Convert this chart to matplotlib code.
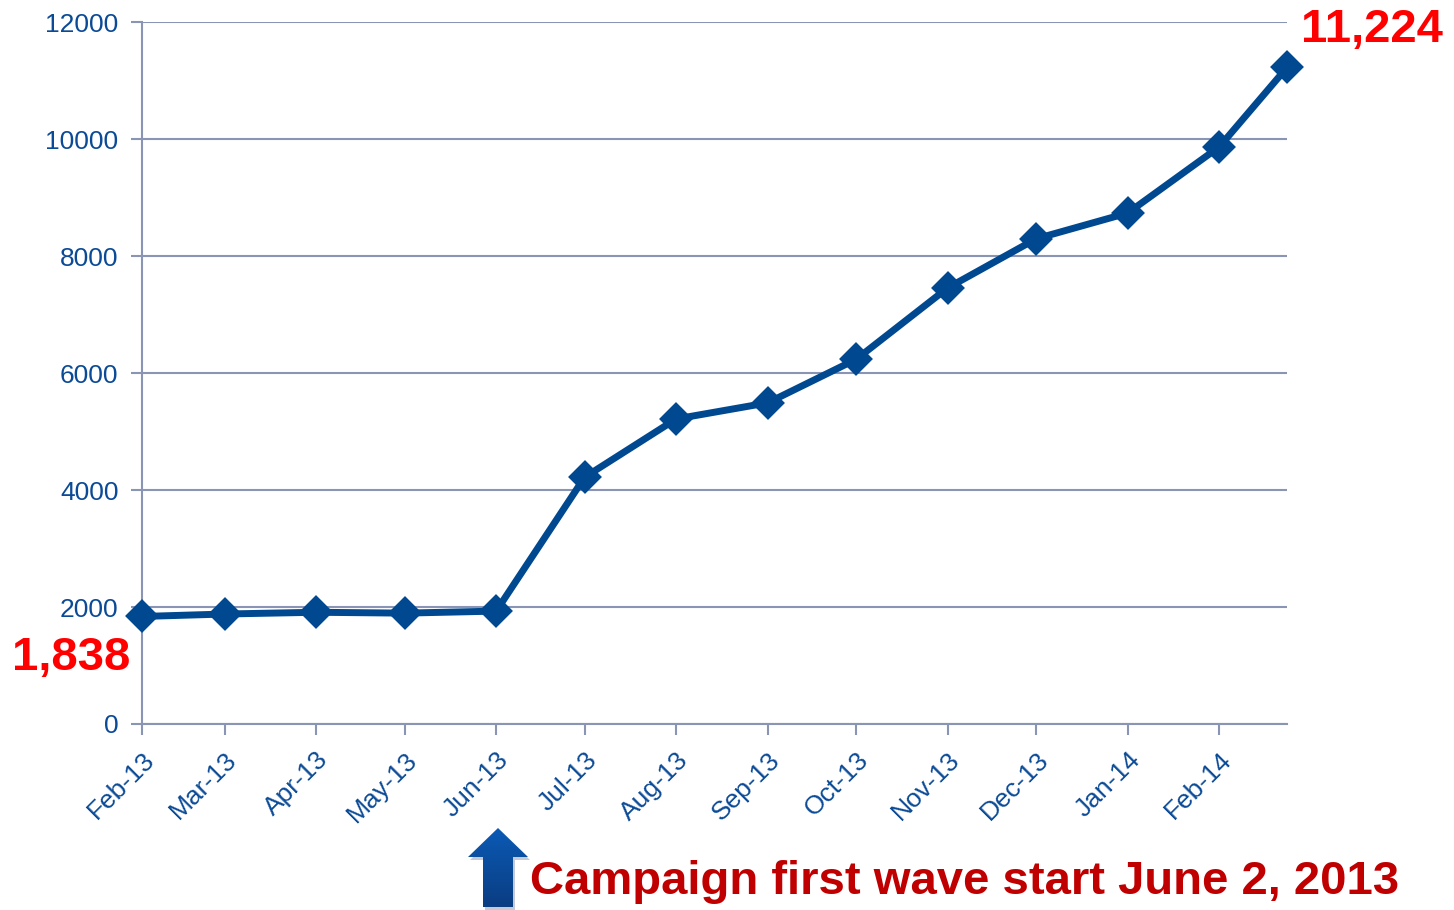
import numpy as np
import matplotlib
matplotlib.use('Agg')
import matplotlib.pyplot as plt
import matplotlib.dates as mdates
from matplotlib.patches import FancyArrow
import datetime as dt

# 資料
dates = [dt.date(2013, m, 1) for m in range(2, 13)] + [dt.date(2014, 1, 1), dt.date(2014, 2, 1), dt.date(2014, 2, 24)]
values = [1838, 1880, 1910, 1895, 1930, 4220, 5215, 5490, 6235, 7455, 8295, 8735, 9865, 11224]
tick_dates = [dt.date(2013, m, 1) for m in range(2, 13)] + [dt.date(2014, 1, 1), dt.date(2014, 2, 1)]

line_color = '#004990'
text_color = '#0b4a96'
grid_color = '#8a95b5'

plt.rcParams['font.family'] = ['Liberation Sans', 'DejaVu Sans']

fig = plt.figure(figsize=(14.54, 9.10), dpi=100)
ax = fig.add_axes([0.0977, 0.2044, 0.7875, 0.7714])

ax.plot(dates, values, color=line_color, lw=5, marker='D', ms=14,
        mec=line_color, mew=3, solid_joinstyle='round', zorder=3, clip_on=False)

ax.set_ylim(0, 12000)
ax.set_yticks(np.arange(0, 12001, 2000))
ax.set_xlim(dates[0], dates[-1])
ax.set_xticks(tick_dates)
ax.xaxis.set_major_formatter(mdates.DateFormatter('%b-%y'))

ax.grid(axis='y', color=grid_color, lw=1.5)
ax.set_axisbelow(True)
for s in ['top', 'right']:
    ax.spines[s].set_visible(False)
for s in ['left', 'bottom']:
    ax.spines[s].set_color(grid_color)
    ax.spines[s].set_linewidth(1.5)

ax.tick_params(axis='both', colors=grid_color, length=8, width=1.5, labelsize=19,
               labelcolor=text_color)
ax.tick_params(axis='y', pad=9)
ax.tick_params(axis='x', pad=9)
for lbl in ax.get_xticklabels():
    lbl.set_rotation(45)
    lbl.set_ha('right')
    lbl.set_rotation_mode('anchor')

# 起點和終點標註
fig.text(71 / 1454, 1 - 658 / 910, '1,838', color='#ff0000', fontsize=34,
         fontweight='bold', ha='center', va='center')
fig.text(1372 / 1454, 1 - 30 / 910, '11,224', color='#ff0000', fontsize=34,
         fontweight='bold', ha='center', va='center')

# 箭頭（漸層藍）與說明
ov = fig.add_axes([0, 0, 1, 1], zorder=5)
ov.axis('off')
shadow = FancyArrow(500, 910, 0, -79, width=30, head_width=60, head_length=29,
                    length_includes_head=True, color='#c4cad6', ec='none', zorder=1)
ov.add_patch(shadow)
arrow = FancyArrow(498, 907, 0, -79, width=30, head_width=60, head_length=29,
                   length_includes_head=True, fc='none', ec='none', zorder=1)
ov.add_patch(arrow)
grad = np.linspace(0, 1, 100).reshape(-1, 1)
cmap = matplotlib.colors.LinearSegmentedColormap.from_list('g', ['#0b5ab5', '#0a3d82'])
img = ov.imshow(grad, extent=(468, 528, 907, 828), cmap=cmap, aspect='auto', zorder=2)
img.set_clip_path(arrow)
ov.set_xlim(0, 1454)
ov.set_ylim(910, 0)

ov.text(530, 882, 'Campaign first wave start June 2, 2013',
        color='#c00000', fontsize=34, fontweight='bold', ha='left', va='center',
        family=['Liberation Sans Narrow', 'Liberation Sans', 'DejaVu Sans'])

fig.savefig('out.png', dpi=100)
